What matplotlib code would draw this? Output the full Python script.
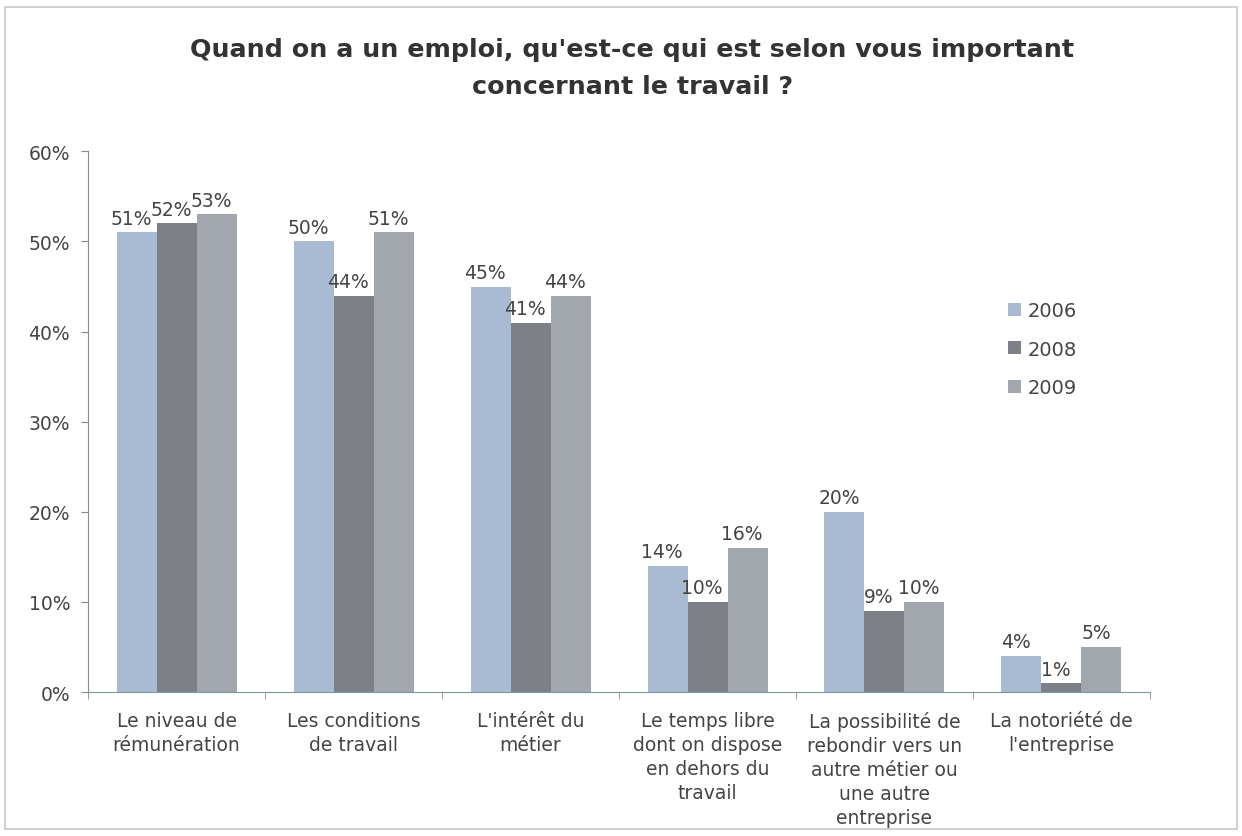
import numpy as np
import matplotlib.pyplot as plt
from matplotlib.patches import Rectangle

categories = [
    "Le niveau de\nrémunération",
    "Les conditions\nde travail",
    "L'intérêt du\nmétier",
    "Le temps libre\ndont on dispose\nen dehors du\ntravail",
    "La possibilité de\nrebondir vers un\nautre métier ou\nune autre\nentreprise",
    "La notoriété de\nl'entreprise",
]
years = ["2006", "2008", "2009"]
v2006 = [51, 50, 45, 14, 20, 4]
v2008 = [52, 44, 41, 10, 9, 1]
v2009 = [53, 51, 44, 16, 10, 5]
series = [v2006, v2008, v2009]
colors = ["#a9bbd2", "#7e8087", "#a2a6ad"]

plt.rcParams['font.family'] = ['DejaVu Sans']
text_col = "#444444"

fig = plt.figure(figsize=(12.42, 8.37), dpi=100)
fig.patches.append(Rectangle((0.004, 0.008), 0.992, 0.982, transform=fig.transFigure,
                             fill=False, edgecolor="#c8c8c8", linewidth=1.2))
ax = fig.add_axes([0.0709, 0.172, 0.855, 0.646])

x = np.arange(len(categories))
w = 0.226
for i, (vals, col) in enumerate(zip(series, colors)):
    pos = x + (i - 1) * w
    ax.bar(pos, np.array(vals) / 100, width=w, color=col, label=years[i],
           edgecolor="none")
    for p, v in zip(pos, vals):
        ax.text(p - 0.03, v / 100 + 0.005, f"{v}%", ha="center", va="bottom",
                fontsize=13.5, color=text_col)

ax.set_xlim(-0.5, len(categories) - 0.5)
ax.set_ylim(0, 0.6)
ax.set_yticks(np.arange(0, 0.61, 0.1))
ax.set_yticklabels([f"{int(round(t * 100))}%" for t in np.arange(0, 0.61, 0.1)],
                   fontsize=13.5, color=text_col)
ax.set_xticks(x)
ax.set_xticklabels(categories, fontsize=13.5, color=text_col, linespacing=1.32)
ax.set_xticks(np.arange(-0.5, len(categories)), minor=True)
ax.tick_params(axis="x", which="major", length=0, pad=14)
ax.tick_params(axis="x", which="minor", length=5, color="#888888")
ax.tick_params(axis="y", length=5, color="#888888", pad=8)

for s in ["top", "right"]:
    ax.spines[s].set_visible(False)
ax.spines["left"].set_color("#888888")
ax.spines["bottom"].set_color("#7a9aa0")

ax.legend(loc="upper left", bbox_to_anchor=(0.85, 0.755), frameon=False,
          fontsize=14, labelcolor=text_col, handlelength=0.65, handleheight=0.65,
          handletextpad=0.35, labelspacing=1.0)

fig.text(0.509, 0.918, "Quand on a un emploi, qu'est-ce qui est selon vous important\nconcernant le travail ?",
         ha="center", va="center", fontsize=18.3, fontweight="bold", color="#333333",
         linespacing=1.65)

fig.savefig("out.png", dpi=100)
